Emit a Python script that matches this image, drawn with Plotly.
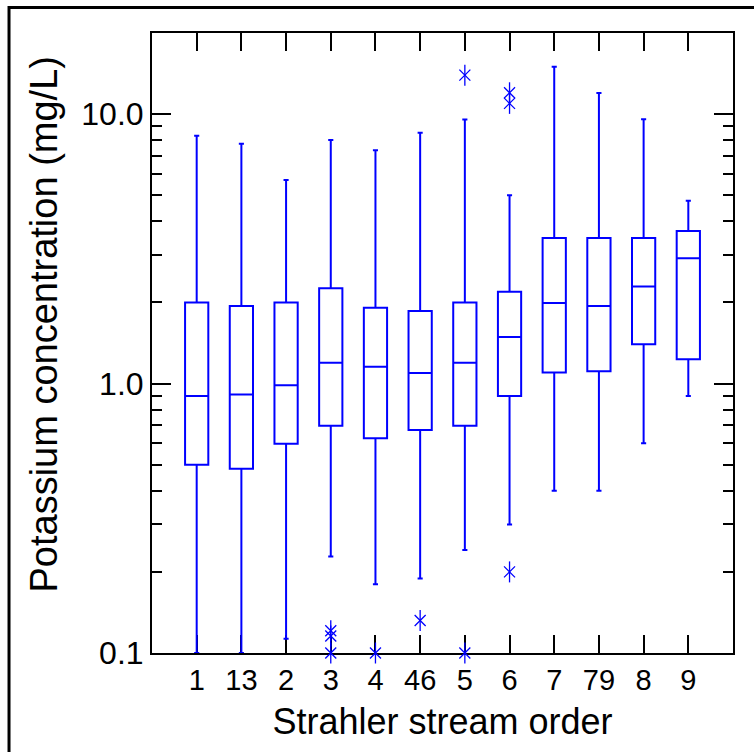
import plotly.graph_objects as go

categories = ['1', '13', '2', '3', '4', '46', '5', '6', '7', '79', '8', '9']
lower_whisker = [0.1, 0.1, 0.113, 0.228, 0.18, 0.189, 0.241, 0.30, 0.40, 0.40, 0.60, 0.90]
q1_values = [0.50, 0.483, 0.598, 0.697, 0.626, 0.672, 0.697, 0.90, 1.10, 1.11, 1.40, 1.23]
median_values = [0.90, 0.91, 0.985, 1.195, 1.154, 1.094, 1.195, 1.49, 1.99, 1.94, 2.29, 2.92]
q3_values = [2.0, 1.94, 2.0, 2.26, 1.91, 1.86, 2.0, 2.19, 3.47, 3.47, 3.47, 3.68]
upper_whisker = [8.31, 7.76, 5.69, 8.01, 7.35, 8.52, 9.56, 5.0, 14.98, 11.97, 9.58, 4.77]

outlier_x = ['3', '3', '3', '4', '46', '5', '5', '6', '6', '6']
outlier_y = [0.121, 0.1156, 0.1, 0.1, 0.132, 13.95, 0.1, 0.2, 12.0, 10.96]

y_tick_vals = [0.1, 1, 10]
y_tick_text = ['0.1', '1.0', '10.0']
y_minor_vals = [0.2, 0.3, 0.4, 0.5, 0.6, 0.7, 0.8, 0.9,
                2, 3, 4, 5, 6, 7, 8, 9, 20]

BLUE = '#0000ff'
FONT = 'Liberation Sans, Arial, sans-serif'

fig = go.Figure()
fig.add_trace(go.Box(
    x=categories,
    q1=q1_values, median=median_values, q3=q3_values,
    lowerfence=lower_whisker, upperfence=upper_whisker,
    boxpoints=False,
    line=dict(color=BLUE, width=2),
    fillcolor='rgba(0,0,0,0)',
    width=0.52,
    whiskerwidth=0.22,
    showlegend=False,
))
fig.add_trace(go.Scatter(
    x=outlier_x, y=outlier_y, mode='markers',
    marker=dict(symbol='x-thin-open', size=11, color=BLUE,
                line=dict(color=BLUE, width=1.3)),
    cliponaxis=False, showlegend=False,
))
fig.add_trace(go.Scatter(
    x=outlier_x, y=outlier_y, mode='markers',
    marker=dict(symbol='line-ns-open', size=15, color=BLUE,
                line=dict(color=BLUE, width=1.3)),
    cliponaxis=False, showlegend=False,
))

fig.update_layout(
    width=754, height=752,
    margin=dict(l=152, r=21, t=33, b=99),
    paper_bgcolor='white', plot_bgcolor='white',
    font=dict(family=FONT, color='black'),
    xaxis=dict(
        type='category', categoryorder='array', categoryarray=categories,
        range=[-1, 12],
        showline=True, linecolor='black', linewidth=2, mirror='allticks',
        ticks='inside', ticklen=18, tickwidth=2, tickcolor='black',
        tickfont=dict(size=29, family=FONT),
        showgrid=False, zeroline=False, layer='below traces',
        title=dict(text='Strahler stream order', font=dict(size=36, family=FONT), standoff=14),
    ),
    yaxis=dict(
        type='log', range=[-1, 1.30103],
        tickvals=y_tick_vals, ticktext=y_tick_text,
        showline=True, linecolor='black', linewidth=2, mirror='allticks',
        ticks='inside', ticklen=19, tickwidth=2, tickcolor='black',
        minor=dict(tickvals=y_minor_vals, ticks='inside', ticklen=10, tickwidth=2, tickcolor='black', showgrid=False),
        tickfont=dict(size=32, family=FONT),
        showgrid=False, zeroline=False, layer='below traces',
    ),
    annotations=[dict(text='Potassium concentration (mg/L)', xref='paper', yref='paper',
                      x=-0.185, y=0.529, xanchor='center', yanchor='middle',
                      textangle=-90, showarrow=False,
                      font=dict(size=38, family=FONT, color='black'))],
    shapes=[dict(type='rect', xref='paper', yref='paper',
                 x0=-0.2461, x1=2, y0=-1, y1=1.0411,
                 line=dict(color='black', width=3), fillcolor='rgba(0,0,0,0)', layer='below')],
)

fig.write_html('out.html')
